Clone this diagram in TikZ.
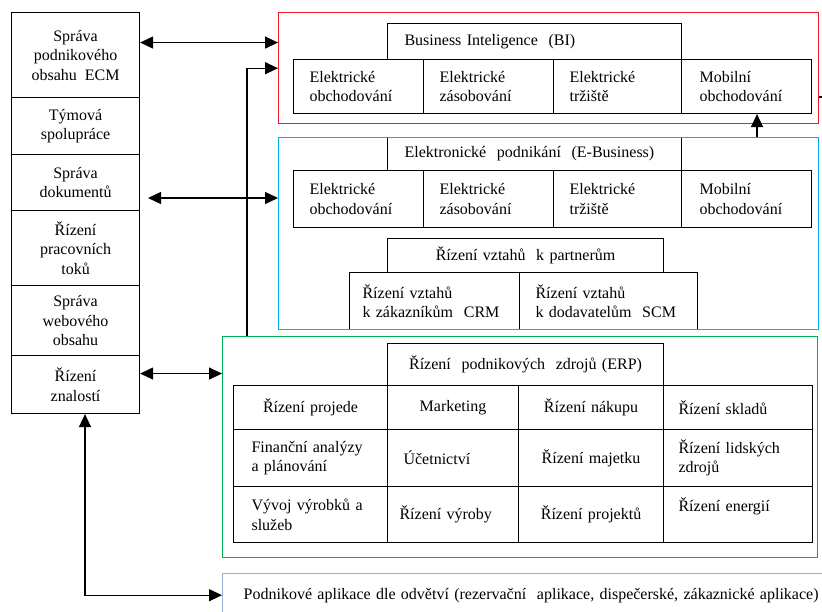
\documentclass[tikz,border=0pt]{standalone}
\usepackage{fontspec}
\setmainfont{Liberation Serif}
\usetikzlibrary{arrows.meta,positioning,calc}
\definecolor{bired}{RGB}{237,28,36}
\definecolor{ebblue}{RGB}{0,176,240}
\definecolor{erpgreen}{RGB}{0,176,80}
\definecolor{appblue}{RGB}{149,179,215}

\tikzset{
  cell/.style={draw, line width=1.1pt, anchor=north west, inner ysep=0pt},
  stack/.style={draw, line width=1.1pt, anchor=north west, align=center, minimum width=128pt, inner sep=0pt},
  frame/.style={draw, line width=1.4pt, anchor=north west, inner sep=0pt},
  arr/.style={-{Triangle[length=13pt,width=12pt]}, line width=1.3pt},
  biarr/.style={{Triangle[length=13pt,width=12pt]}-{Triangle[length=13pt,width=12pt]}, line width=1.3pt}
}

\begin{document}
\begin{tikzpicture}[x=1pt, y=-1pt, font=\fontsize{16}{19.5}\selectfont]
        \useasboundingbox (0,0) rectangle (822,612);
        % left column (ECM)
        \foreach \n/\y/\h/\t in {ecm/12/85/{Správa\\podnikového\\obsahu\ \ ECM},
                                 tym/97/57/{Týmová\\spolupráce},
                                 dok/154/56/{Správa\\dokumentů},
                                 toky/210/75/{Řízení\\pracovních\\toků},
                                 web/285/70/{Správa\\webového\\obsahu},
                                 znal/355/58/{Řízení\\znalostí}} {
          \node[stack, minimum height=\h pt] (\n) at (11,\y) {\t};
        }

        % BI and E-Business cells
        \foreach \n/\x/\y/\w/\h/\p/\a/\t in {bihead/387/23/294/36/17/left/{Business Inteligence\ \ (BI)},
                                          biobch/293/59/130/54/16/left/{Elektrické\\obchodování},
                                          bizas/423/59/130/54/16/left/{Elektrické\\zásobování},
                                          bitrz/553/59/128/54/16/left/{Elektrické\\tržiště},
                                          bimob/681/59/130/54/18/left/{Mobilní\\obchodování},
                                          ebhead/387/137/294/33/17/left/{Elektronické\ \ podnikání\ \ (E-Business)},
                                          ebobch/293/170/130/57/16/left/{Elektrické\\obchodování},
                                          ebzas/423/170/130/57/16/left/{Elektrické\\zásobování},
                                          ebtrz/553/170/128/57/16/left/{Elektrické\\tržiště},
                                          ebmob/681/170/130/57/18/left/{Mobilní\\obchodování},
                                          prm/387/238/276/34/6/center/{Řízení vztahů\ \ k partnerům},
                                          crm/349/272/170/57/13/left/{Řízení vztahů\\k zákazníkům\ \ CRM},
                                          scm/519/272/178/57/16/left/{Řízení vztahů\\k dodavatelům\ \ SCM}} {
          \pgfmathsetmacro{\tw}{\w-2*\p}
          \node[cell, align=\a, minimum height=\h pt, text width=\tw pt, inner xsep=\p pt] (\n) at (\x,\y) {\t};
        }

        % ERP table
        \foreach \n/\x/\y/\w/\h/\p/\a/\t in {erphead/387/343/276/42/6/center/{Řízení\ \ podnikových\ \ zdrojů\ (ERP)},
                                          proj/233/385/154/44/6/center/{Řízení projede},
                                          mkt/387/385/131/44/6/center/{Marketing},
                                          nak/518/385/145/44/6/center/{Řízení nákupu},
                                          skl/663/385/149/44/15/left/{Řízení skladů},
                                          fin/233/429/154/57/18/left/{Finanční analýzy\\a plánování},
                                          uct/387/429/131/57/16/left/{Účetnictví},
                                          maj/518/429/145/57/6/center/{Řízení majetku},
                                          lid/663/429/149/57/15/left/{Řízení lidských\\zdrojů},
                                          vyv/233/486/154/56/18/left/{Vývoj výrobků a\\služeb},
                                          vyr/387/486/131/56/12/left/{Řízení výroby},
                                          prj/518/486/145/56/6/center/{Řízení projektů},
                                          ene/663/486/149/56/15/left/{Řízení energií\\\mbox{}}} {
          \pgfmathsetmacro{\tw}{\w-2*\p}
          \node[cell, align=\a, minimum height=\h pt, text width=\tw pt, inner xsep=\p pt] (\n) at (\x,\y) {\t};
        }

        % coloured frames
        \node[frame, draw=bired, minimum width=540pt, minimum height=111pt] (biframe) at (278,12) {};
        \node[frame, draw=ebblue, minimum width=540pt, minimum height=192pt] (ebframe) at (278,137) {};
        \node[frame, draw=erpgreen, minimum width=595pt, minimum height=221pt] (erpframe) at (222,336) {};
        \node[frame, draw=appblue, minimum height=43pt, text width=575pt, inner xsep=21pt, align=left] (appbox) at (222,573)
          {\makebox[575pt][s]{Podnikové aplikace dle odvětví (rezervační\ \ aplikace, dispečerské, zákaznické aplikace)}};

        % connectors
        \coordinate (a1) at ([yshift=12.5pt]ecm.east);
        \draw[biarr] (a1) -- (a1 -| biframe.west);
        \coordinate (k2) at (247,0);
        \draw[arr] (k2 |- erpframe.north) |- (biframe.west);
        \coordinate (a3) at (148,198);
        \draw[biarr] (a3) -- (a3 -| ebframe.west);
        \coordinate (a4) at ([yshift=11pt]znal.east);
        \draw[biarr] (a4) -- (a4 -| erpframe.west);
        \coordinate (k5) at (85,0);
        \draw[biarr] (k5 |- znal.south) |- (appbox.west);
        \coordinate (k6) at (757,0);
        \draw[arr] (k6 |- ebframe.north) -- (k6 |- bimob.south);
        \coordinate (stub) at (824,97);
        \draw[line width=1.1pt] (stub) -- (stub -| biframe.east);
      \end{tikzpicture}
\end{document}
